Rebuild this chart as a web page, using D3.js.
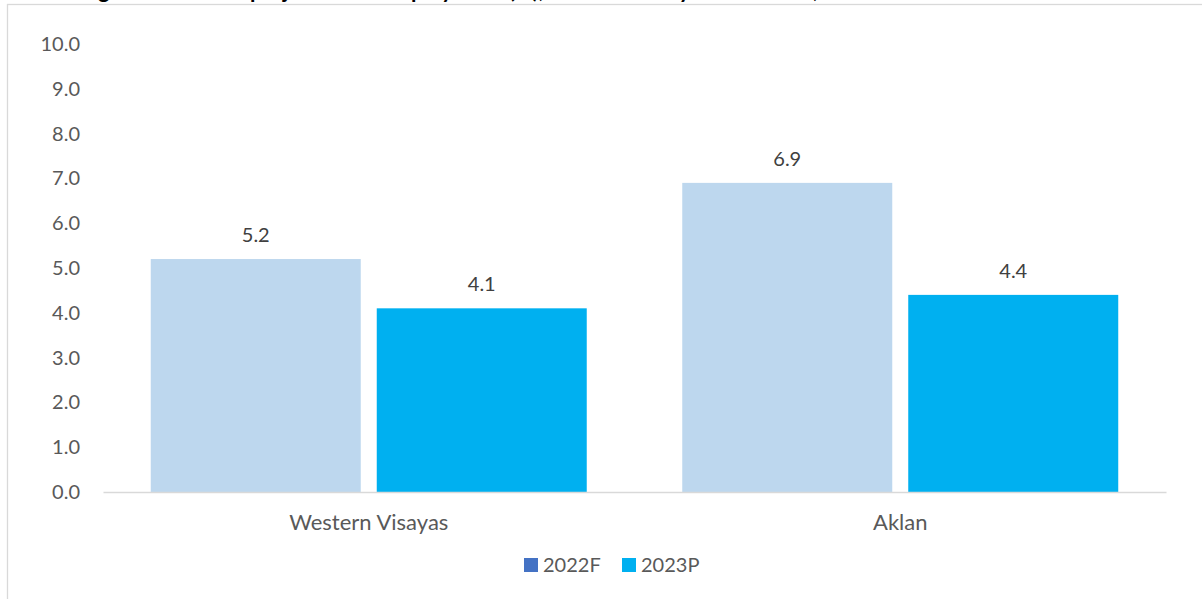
<!DOCTYPE html>
<html>
<head>
<meta charset="utf-8">
<script src="https://cdn.jsdelivr.net/npm/d3@7"></script>
<style>
  body { margin: 0; background: #fff; }
  #chart { width: 1202px; height: 599px; overflow: hidden; }
</style>
</head>
<body>
<div id="chart"></div>
<script>
// data
const categories = ["Western Visayas", "Aklan"];
const seriesNames = ["2022F", "2023P"];
const values2022F = [5.2, 6.9];
const values2023P = [4.1, 4.4];
const yTicks = [0, 1, 2, 3, 4, 5, 6, 7, 8, 9, 10];
const titleText = "Figure 2. Growth projection of employment (%), Western Visayas and Aklan, 2022-2023";

const barColors = ["#BDD7EE", "#00B0F0"];
const legendColors = ["#4472C4", "#00B0F0"];  // legend swatch differs from bars in the original

const width = 1202;
const height = 599;
const font = "Lato, 'Open Sans', sans-serif";

const svg = d3.select("#chart")
    .append("svg")
    .attr("width", width)
    .attr("height", height);

// title is cut off at the top of the picture, only descenders show
svg.append("text")
    .attr("x", 80)
    .attr("y", -2)
    .attr("font-family", font)
    .attr("font-weight", "bold")
    .attr("font-size", 22)
    .attr("fill", "#000")
    .text(titleText);

// chart border
svg.append("rect")
    .attr("x", 7.5)
    .attr("y", 4.5)
    .attr("width", 1300)
    .attr("height", 700)
    .attr("fill", "none")
    .attr("stroke", "#D9D9D9")
    .attr("stroke-width", 1.3);

const plot = { left: 103, right: 1166, top: 44, bottom: 492 };

const y = d3.scaleLinear()
    .domain([0, 10])
    .range([plot.bottom, plot.top]);

const x0 = d3.scaleBand()
    .domain(categories)
    .range([plot.left, plot.right]);

const x1 = d3.scaleBand()
    .domain(seriesNames)
    .range([0, x0.bandwidth()])
    .paddingInner(0.0708)
    .paddingOuter(0.2113);

// y axis labels (no line, no gridlines)
const yAxis = d3.axisLeft(y)
    .tickValues(yTicks)
    .tickFormat(d3.format(".1f"))
    .tickSize(0)
    .tickPadding(23);

const yg = svg.append("g")
    .attr("transform", `translate(${plot.left},0)`)
    .call(yAxis);
yg.select(".domain").remove();
yg.selectAll("text")
    .attr("font-family", font)
    .attr("font-size", 20)
    .attr("fill", "#595959");

// bars
const rows = categories.map((c, i) => ({ cat: c, vals: [values2022F[i], values2023P[i]] }));

const groups = svg.selectAll(".group")
    .data(rows)
    .enter()
    .append("g")
    .attr("class", "group")
    .attr("transform", d => `translate(${x0(d.cat)},0)`);

groups.selectAll("rect")
    .data(d => d.vals.map((v, j) => ({ s: seriesNames[j], v: v, j: j })))
    .enter()
    .append("rect")
    .attr("x", d => x1(d.s))
    .attr("y", d => y(d.v))
    .attr("width", x1.bandwidth())
    .attr("height", d => y(0) - y(d.v))
    .attr("fill", d => barColors[d.j]);

groups.selectAll(".lbl")
    .data(d => d.vals.map((v, j) => ({ s: seriesNames[j], v: v })))
    .enter()
    .append("text")
    .attr("class", "lbl")
    .attr("x", d => x1(d.s) + x1.bandwidth() / 2)
    .attr("y", d => y(d.v) - 17)
    .attr("text-anchor", "middle")
    .attr("font-family", font)
    .attr("font-size", 20)
    .attr("fill", "#404040")
    .text(d => d3.format(".1f")(d.v));

// x axis
const xAxis = d3.axisBottom(x0).tickSize(0).tickPadding(22);
const xg = svg.append("g")
    .attr("transform", `translate(0,${plot.bottom})`)
    .call(xAxis);
xg.select(".domain")
    .attr("stroke", "#D9D9D9")
    .attr("stroke-width", 1.5);
xg.selectAll("text")
    .attr("font-family", font)
    .attr("font-size", 22)
    .attr("fill", "#595959");

// legend
const legend = svg.append("g").attr("transform", "translate(524,565)");
const legendX = [0, 98];
seriesNames.forEach((s, i) => {
    const g = legend.append("g").attr("transform", `translate(${legendX[i]},0)`);
    g.append("rect")
        .attr("x", 0)
        .attr("y", -7)
        .attr("width", 14)
        .attr("height", 14)
        .attr("fill", legendColors[i]);
    g.append("text")
        .attr("x", 19)
        .attr("y", 7)
        .attr("font-family", font)
        .attr("font-size", 20)
        .attr("fill", "#595959")
        .text(s);
});
</script>
</body>
</html>
